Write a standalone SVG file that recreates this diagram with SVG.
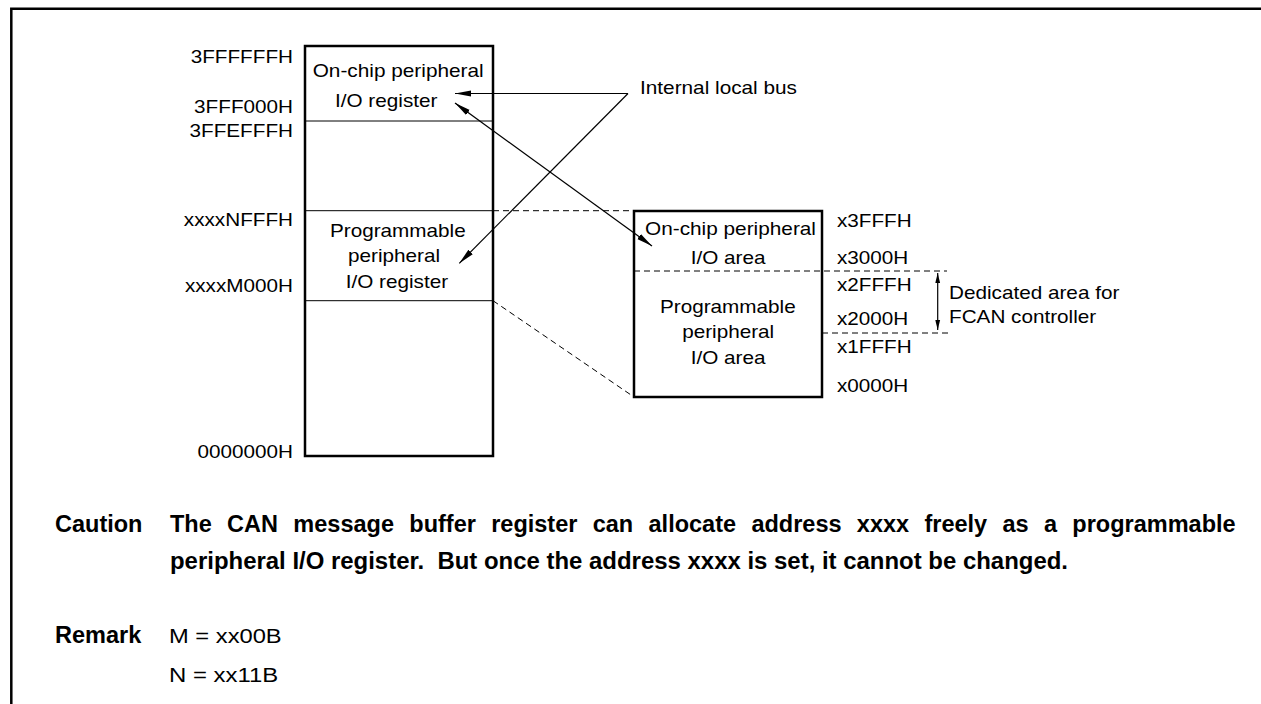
<svg xmlns="http://www.w3.org/2000/svg" width="1261" height="704" viewBox="0 0 1261 704">
<style>
.t{font-family:"Liberation Sans",Arial,Helvetica,sans-serif;font-size:18.5px;fill:#000}
.m{font-family:"Liberation Sans",Arial,Helvetica,sans-serif;font-size:20px;fill:#000}
.b{font-family:"Liberation Sans",Arial,Helvetica,sans-serif;font-size:23.5px;font-weight:bold;fill:#000}
.box{fill:none;stroke:#000;stroke-width:2.5}
.div{fill:none;stroke:#000;stroke-width:1}
.dash{fill:none;stroke:#000;stroke-width:1;stroke-dasharray:6 4}
.arr{fill:none;stroke:#000;stroke-width:1.2}
.frame{fill:none;stroke:#000;stroke-width:2.5}
</style>
<defs>
<marker id="ah" viewBox="0 0 16 8" refX="16" refY="4" markerWidth="16" markerHeight="8" markerUnits="userSpaceOnUse" orient="auto-start-reverse">
<path d="M0,0.9 L16,4 L0,7.1 Z" fill="#000"/>
</marker>
<marker id="ahs" viewBox="0 0 10 6" refX="10" refY="3" markerWidth="10" markerHeight="6" markerUnits="userSpaceOnUse" orient="auto-start-reverse">
<path d="M0,0.6 L10,3 L0,5.4 Z" fill="#000"/>
</marker>
</defs>

<g id="frame">
<path class="frame" d="M11.3,704 L11.3,8.7 L1261,8.7"/>
</g>

<g id="memory-map">
<rect class="box" x="305" y="46" width="188" height="410"/>
<line class="div" x1="305" y1="121" x2="493" y2="121"/>
<line class="div" x1="305" y1="210.7" x2="493" y2="210.7"/>
<line class="div" x1="305" y1="300.7" x2="493" y2="300.7"/>
<text class="t" x="190.7" y="63.3" textLength="102.3" lengthAdjust="spacingAndGlyphs">3FFFFFFH</text>
<text class="t" x="194.1" y="113.3" textLength="98.9" lengthAdjust="spacingAndGlyphs">3FFF000H</text>
<text class="t" x="189.5" y="137" textLength="103.5" lengthAdjust="spacingAndGlyphs">3FFEFFFH</text>
<text class="t" x="183.8" y="226" textLength="109.2" lengthAdjust="spacingAndGlyphs">xxxxNFFFH</text>
<text class="t" x="184.9" y="291.7" textLength="108.1" lengthAdjust="spacingAndGlyphs">xxxxM000H</text>
<text class="t" x="197.5" y="458" textLength="95.5" lengthAdjust="spacingAndGlyphs">0000000H</text>
</g>

<g id="onchip-register">
<text class="t" x="312.7" y="77" textLength="171" lengthAdjust="spacingAndGlyphs">On-chip peripheral</text>
<text class="t" x="335" y="107.3" textLength="102.4" lengthAdjust="spacingAndGlyphs">I/O register</text>
</g>

<g id="programmable-register">
<text class="t" x="330" y="237.3" textLength="135.7" lengthAdjust="spacingAndGlyphs">Programmable</text>
<text class="t" x="348" y="262.3" textLength="92" lengthAdjust="spacingAndGlyphs">peripheral</text>
<text class="t" x="345.7" y="287.7" textLength="102.4" lengthAdjust="spacingAndGlyphs">I/O register</text>
</g>

<g id="io-area">
<rect class="box" x="634" y="211" width="188" height="186"/>
<text class="t" x="645" y="235" textLength="171" lengthAdjust="spacingAndGlyphs">On-chip peripheral</text>
<text class="t" x="690.7" y="264.3" textLength="74.8" lengthAdjust="spacingAndGlyphs">I/O area</text>
<text class="t" x="660" y="313.3" textLength="135.7" lengthAdjust="spacingAndGlyphs">Programmable</text>
<text class="t" x="682.2" y="338.3" textLength="92" lengthAdjust="spacingAndGlyphs">peripheral</text>
<text class="t" x="690.7" y="364" textLength="74.8" lengthAdjust="spacingAndGlyphs">I/O area</text>
<text class="t" x="837" y="226.7" textLength="74.7" lengthAdjust="spacingAndGlyphs">x3FFFH</text>
<text class="t" x="837" y="264.3" textLength="71.3" lengthAdjust="spacingAndGlyphs">x3000H</text>
<text class="t" x="837" y="291.3" textLength="74.7" lengthAdjust="spacingAndGlyphs">x2FFFH</text>
<text class="t" x="837" y="325" textLength="71.3" lengthAdjust="spacingAndGlyphs">x2000H</text>
<text class="t" x="837" y="353.3" textLength="74.7" lengthAdjust="spacingAndGlyphs">x1FFFH</text>
<text class="t" x="837" y="391.7" textLength="71.3" lengthAdjust="spacingAndGlyphs">x0000H</text>
</g>

<g id="bus-label">
<text class="t" x="640" y="94" textLength="157" lengthAdjust="spacingAndGlyphs">Internal local bus</text>
</g>

<g id="fcan-label">
<text class="t" x="949" y="299.3" textLength="170.3" lengthAdjust="spacingAndGlyphs">Dedicated area for</text>
<text class="t" x="949" y="322.7" textLength="147.2" lengthAdjust="spacingAndGlyphs">FCAN controller</text>
</g>

<g id="connectors">
<line class="dash" x1="493" y1="210.7" x2="634" y2="210.7"/>
<line class="dash" x1="493" y1="300.7" x2="634" y2="397"/>
<line class="dash" x1="634" y1="271" x2="947" y2="271"/>
<line class="dash" x1="822" y1="333" x2="948" y2="333"/>
<path class="arr" d="M628,93.5 L455,93.5" marker-end="url(#ah)"/>
<path class="arr" d="M628,93.5 L459.3,263.3" marker-end="url(#ah)"/>
<path class="arr" d="M455,103 L652,246" marker-start="url(#ah)" marker-end="url(#ah)"/>
<path class="arr" d="M937.7,273 L937.7,330" marker-start="url(#ahs)" marker-end="url(#ahs)"/>
</g>

<g id="notes">
<text class="b" x="55" y="532">Caution</text>
<text class="b" x="170" y="532" word-spacing="8.8">The CAN message buffer register can allocate address xxxx freely as a programmable</text>
<text class="b" x="170" y="568.5" textLength="898" lengthAdjust="spacingAndGlyphs">peripheral I/O register.&#160; But once the address xxxx is set, it cannot be changed.</text>
<text class="b" x="55" y="643.3">Remark</text>
<text class="m" x="169" y="643.3" textLength="112.7" lengthAdjust="spacingAndGlyphs">M = xx00B</text>
<text class="m" x="169" y="681.7" textLength="109.3" lengthAdjust="spacingAndGlyphs">N = xx11B</text>
</g>
</svg>
